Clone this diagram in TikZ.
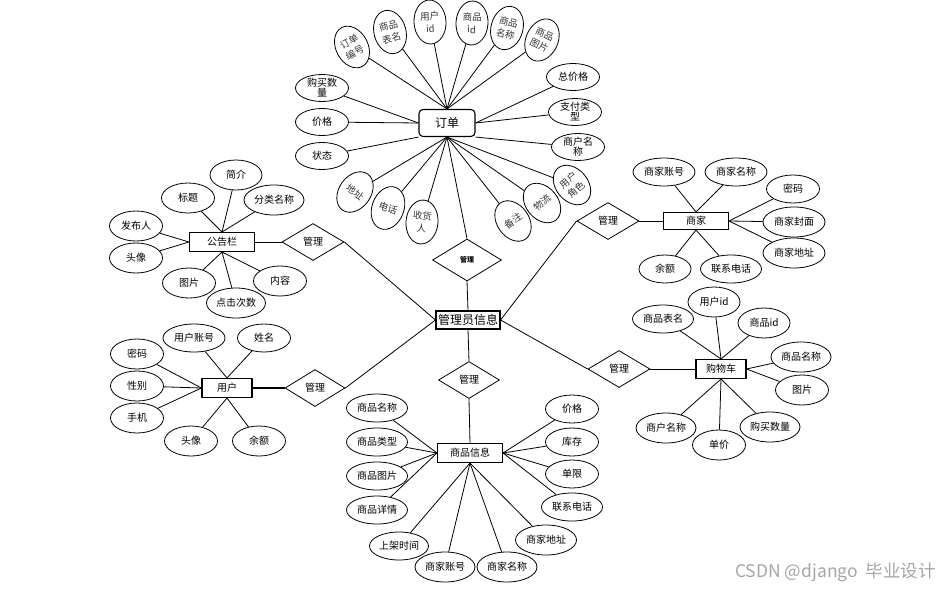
\documentclass[tikz,border=0pt]{standalone}
\usepackage{fontspec}
\setmainfont{Noto Sans CJK SC}
\usetikzlibrary{shapes.geometric}
\begin{document}
\begin{tikzpicture}[x=1pt,y=-1pt,
  every node/.style={font=\fontsize{10}{11}\selectfont, inner sep=0pt, align=center},
  attr/.style={ellipse, draw, line width=0.8pt, minimum width=53pt, minimum height=28pt},
  wide/.style={attr, minimum width=61pt},
  tilt/.style={ellipse, draw, line width=0.8pt, minimum width=32pt, minimum height=44pt, rotate=#1,
    font=\fontsize{9.5}{12.5}\selectfont, text=black!80},
  ent/.style={rectangle, draw, line width=1.1pt, minimum width=65pt, minimum height=19pt},
  rel/.style={diamond, draw, line width=0.8pt, minimum width=62pt, minimum height=37pt},
  conn/.style={line width=0.8pt},
  plain/.style={font=\fontsize{10}{11}\selectfont}
]
\useasboundingbox (0,0) rectangle (951,590);

% ---------- central ----------
\node[ent, minimum width=64pt, minimum height=18pt, font=\fontsize{12}{14}\selectfont] (admin) at (468,320) {管理员信息};

% ---------- order ----------
\node[rel, minimum width=69pt, minimum height=42pt, font=\fontsize{7}{8}\selectfont\bfseries] (r0) at (467,260) {管理};
\node[ent, rounded corners=4pt, minimum width=56pt, minimum height=27pt, font=\fontsize{12}{14}\selectfont] (order) at (447,123) {订单};

\node[tilt=28] (o1) at (352,47) {订单\\编号};
\node[tilt=15] (o2) at (390,32) {商品\\表名};
\node[tilt=3] (o3) at (430,22) {用户\\id};
\node[tilt=-3] (o4) at (472,23) {商品\\id};
\node[tilt=-15] (o5) at (507,28) {商品\\名称};
\node[tilt=-25] (o6) at (542,40) {商品\\图片};
\node[attr, minimum height=27pt] (o7) at (573,77) {总价格};
\node[attr, minimum height=27pt] (o8) at (575,112) {};
\node[plain] (o8t) at (o8) {支付类\\[-1pt]型};
\node[attr, minimum height=27pt] (o9) at (578,147) {};
\node[plain] (o9t) at (o9) {商户名\\[-1pt]称};
\node[tilt=40] (o10) at (572,185) {用户\\角色};
\node[tilt=40] (o11) at (542,203) {物流};
\node[tilt=35] (o12) at (513,221) {备注};
\node[tilt=-5] (o13) at (422,222) {收货\\人};
\node[tilt=-20] (o14) at (388,208) {电话};
\node[tilt=-35] (o15) at (355,192) {地址};
\node[attr, minimum height=27pt] (o16) at (322,88) {};
\node[plain] (o16t) at (o16) {购买数\\[-1pt]量};
\node[attr, minimum height=27pt] (o17) at (322,122) {价格};
\node[attr, minimum height=27pt] (o18) at (322,156) {状态};

\foreach \a in {o1,o2,o3,o4,o5,o6} \draw[conn] (\a) -- (order.north);
\foreach \a in {o16,o17} \draw[conn] (\a) -- (order.west);
\draw[conn] (o18) -- (order.south west);
\foreach \a in {o7,o8} \draw[conn] (\a) -- (order.east);
\draw[conn] (o9) -- (order.south east);
\foreach \a in {o10,o11,o12,o13,o14,o15} \draw[conn] (\a) -- (order.south);
\draw[conn] (order.south) -- (r0.north);
\draw[conn] (r0.south) -- (admin.north);

% ---------- notice board ----------
\node[ent] (gg) at (222,242) {公告栏};
\node[rel] (r1) at (313,242) {管理};
\node[attr, minimum width=52pt, minimum height=30pt] (g1) at (236,175) {简介};
\node[attr, minimum height=30pt] (g2) at (188,198) {标题};
\node[attr, minimum width=60pt, minimum height=30pt] (g3) at (274,200) {分类名称};
\node[attr, minimum height=30pt] (g4) at (136,226) {发布人};
\node[attr, minimum height=30pt] (g5) at (136,258) {头像};
\node[attr, minimum height=30pt] (g6) at (189,283) {图片};
\node[attr, minimum height=30pt] (g7) at (280,281) {内容};
\node[attr, minimum width=59pt, minimum height=30pt] (g8) at (236,303) {点击次数};
\foreach \a in {g1,g2,g3} \draw[conn] (\a) -- (gg.north);
\foreach \a in {g4,g5} \draw[conn] (\a) -- (gg.west);
\foreach \a in {g6,g7,g8} \draw[conn] (\a) -- (gg.south);
\draw[conn] (gg.east) -- (r1.west);
\draw[conn] (r1.east) -- (admin.west);

% ---------- user ----------
\node[ent, minimum width=50pt] (user) at (227,388) {用户};
\node[rel, minimum width=60pt] (r2) at (315,388) {管理};
\node[attr, minimum width=62pt] (u1) at (194,338) {用户账号};
\node[attr] (u2) at (264,338) {姓名};
\node[attr, minimum height=30pt] (u3) at (137,354) {密码};
\node[attr, minimum height=30pt] (u4) at (137,386) {性别};
\node[attr, minimum height=30pt] (u5) at (137,418) {手机};
\node[attr, minimum height=30pt] (u6) at (191,441) {头像};
\node[attr, minimum height=30pt] (u7) at (259,441) {余额};
\foreach \a in {u1,u2} \draw[conn] (\a) -- (user.north);
\foreach \a in {u3,u4,u5} \draw[conn] (\a) -- (user.west);
\foreach \a in {u6,u7} \draw[conn] (\a) -- (user.south);
\draw[line width=1.4pt] (user.east) -- (r2.west);
\draw[conn] (r2.east) -- (admin.west);

% ---------- merchant ----------
\node[ent, minimum height=17pt] (shop) at (696,221) {商家};
\node[rel] (r3) at (608,221) {管理};
\node[attr, minimum width=62pt] (s1) at (664,172) {商家账号};
\node[attr, minimum width=62pt] (s2) at (736,172) {商家名称};
\node[attr] (s3) at (793,189) {密码};
\node[attr, minimum width=62pt, minimum height=30pt] (s4) at (794,222) {商家封面};
\node[attr, minimum width=62pt, minimum height=30pt] (s5) at (794,253) {商家地址};
\node[attr, minimum width=52pt] (s6) at (665,269) {余额};
\node[attr, minimum width=61pt] (s7) at (731,269) {联系电话};
\foreach \a in {s1,s2} \draw[conn] (\a) -- (shop.north);
\foreach \a in {s3,s4,s5} \draw[conn] (\a) -- (shop.east);
\foreach \a in {s6,s7} \draw[conn] (\a) -- (shop.south);
\draw[conn] (admin.east) -- (r3.west);
\draw[conn] (r3.east) -- (shop.west);

% ---------- cart ----------
\node[ent, minimum width=50pt] (cart) at (721,369) {购物车};
\node[rel] (r4) at (619,369) {管理};
\node[attr, minimum width=52pt, minimum height=30pt] (c1) at (714,302) {用户id};
\node[attr, minimum width=61pt] (c2) at (663,319) {商品表名};
\node[attr, minimum width=52pt, minimum height=30pt] (c3) at (764,323) {商品id};
\node[attr, minimum width=60pt, minimum height=30pt] (c4) at (801,357) {商品名称};
\node[attr, minimum height=30pt] (c5) at (802,390) {图片};
\node[attr, minimum width=60pt, minimum height=30pt] (c6) at (666,428) {商户名称};
\node[attr, minimum height=30pt] (c7) at (719,445) {单价};
\node[attr, minimum width=60pt, minimum height=30pt] (c8) at (770,427) {购买数量};
\foreach \a in {c1,c2,c3} \draw[conn] (\a) -- (cart.north);
\foreach \a in {c4,c5} \draw[conn] (\a) -- (cart.east);
\foreach \a in {c6,c7,c8} \draw[conn] (\a) -- (cart.south);
\draw[conn] (admin.east) -- (r4.west);
\draw[conn] (r4.east) -- (cart.west);

% ---------- goods ----------
\node[ent] (goods) at (470,453) {商品信息};
\node[rel, minimum width=61pt] (r5) at (469,380) {管理};
\node[wide] (p1) at (377,408) {商品名称};
\node[wide] (p2) at (377,442) {商品类型};
\node[wide] (p3) at (377,476) {商品图片};
\node[wide] (p4) at (377,510) {商品详情};
\node[attr, minimum width=59pt] (p5) at (399,546) {上架时间};
\node[attr, minimum width=60pt, minimum height=30pt] (p6) at (445,567) {商家账号};
\node[attr, minimum width=60pt, minimum height=30pt] (p7) at (507,567) {商家名称};
\node[wide, minimum height=30pt] (p8) at (546,540) {商家地址};
\node[attr] (p9) at (572,409) {价格};
\node[attr] (p10) at (572,442) {库存};
\node[attr] (p11) at (572,474) {单限};
\node[wide] (p12) at (572,507) {联系电话};
\foreach \a in {p1,p2,p3,p4} \draw[conn] (\a) -- (goods.west);
\foreach \a in {p5,p6,p7,p8} \draw[conn] (\a) -- (goods.south);
\foreach \a in {p9,p10,p11,p12} \draw[conn] (\a) -- (goods.east);
\draw[conn] (admin.south) -- (r5.north);
\draw[conn] (r5.south) -- (goods.north);

% ---------- watermark ----------
\node[anchor=west, font=\fontsize{17.5}{19}\selectfont, text=black!35] (wm) at (735,572) {CSDN @django\ \ 毕业设计};
\end{tikzpicture}
\end{document}
